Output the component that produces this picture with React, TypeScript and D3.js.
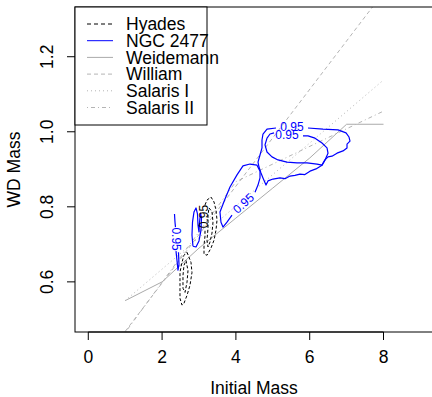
import React from 'react';
import * as d3 from 'd3';

const xTicks = [0, 2, 4, 6, 8];
const yTicks = [0.6, 0.8, 1.0, 1.2];
const legendLabels = ['Hyades', 'NGC 2477', 'Weidemann', 'William', 'Salaris I', 'Salaris II'];

// Initial-final mass relations
const weidemannX = [1, 2, 3, 4, 5, 6, 7, 8];
const weidemannY = [0.55, 0.6, 0.69, 0.77, 0.85, 0.93, 1.02, 1.02];
const williamX = [1, 8];
const williamY = [0.468, 1.371];
const salaris1X = [1, 8];
const salaris1Y = [0.55, 1.138];
const salaris2X = [1, 4, 8];
const salaris2Y = [0.465, 0.867, 1.055];

// NGC 2477 contours (blue)
const ngcOuter: [number, number][] = [
  [5.087, 1.01], [4.843, 1.007], [4.734, 0.994], [4.707, 0.978], [4.707, 0.957], [4.653, 0.938],
  [4.599, 0.919], [4.626, 0.906], [4.68, 0.89], [4.734, 0.877], [4.816, 0.858], [4.87, 0.869],
  [5.005, 0.874], [5.195, 0.877], [5.33, 0.875], [5.466, 0.882], [5.6, 0.884], [5.737, 0.887],
  [5.87, 0.886], [6.008, 0.895], [6.171, 0.901], [6.333, 0.911], [6.415, 0.925], [6.496, 0.933],
  [6.604, 0.935], [6.74, 0.943], [6.902, 0.949], [7.011, 0.957], [7.011, 0.967], [7.092, 0.975],
  [7.065, 0.986], [6.984, 0.997], [6.767, 1.005], [6.36, 1.007], [5.954, 1.01],
];
const ngcInner: [number, number][] = [
  [5.818, 0.989], [5.954, 0.989], [6.144, 0.983], [6.333, 0.97], [6.469, 0.957], [6.496, 0.943],
  [6.415, 0.925], [6.333, 0.911], [6.198, 0.914], [5.927, 0.917], [5.656, 0.917], [5.385, 0.919],
  [5.141, 0.925], [4.978, 0.933], [4.843, 0.946], [4.789, 0.965], [4.843, 0.983], [4.924, 0.994],
  [5.033, 0.997],
];
const ngcMid: [number, number][] = [
  [4.518, 0.839], [4.599, 0.858], [4.653, 0.877], [4.653, 0.895], [4.572, 0.911], [4.382, 0.914],
  [4.192, 0.909], [4.03, 0.885], [3.84, 0.853], [3.705, 0.821], [3.569, 0.786], [3.596, 0.759],
  [3.65, 0.746], [3.759, 0.759], [3.894, 0.778],
];
const ngcSmallA: [number, number][] = [[2.336, 0.781], [2.35, 0.759], [2.363, 0.746]];
const ngcSmallB: [number, number][] = [
  [2.377, 0.682], [2.404, 0.657], [2.431, 0.631], [2.458, 0.647], [2.444, 0.679],
];
const ngcSmallC: [number, number][] = [
  [2.837, 0.695], [2.81, 0.725], [2.824, 0.759], [2.864, 0.786], [2.919, 0.797], [2.959, 0.781],
  [2.973, 0.751], [3.0, 0.733], [3.014, 0.759], [3.041, 0.783], [3.068, 0.77], [3.054, 0.738],
  [3.0, 0.709], [2.919, 0.693], [2.837, 0.695],
];

// Hyades contours (black dashed)
const hyaOuter1: [number, number][] = [
  [3.163, 0.805], [3.217, 0.818], [3.325, 0.826], [3.407, 0.813], [3.461, 0.791], [3.488, 0.765],
  [3.461, 0.738], [3.407, 0.711], [3.325, 0.69], [3.217, 0.671], [3.136, 0.674], [3.136, 0.698],
  [3.163, 0.722], [3.163, 0.741],
];
const hyaInner1: [number, number][] = [
  [3.271, 0.797], [3.352, 0.787], [3.379, 0.759], [3.352, 0.73], [3.298, 0.706], [3.244, 0.693],
  [3.217, 0.711], [3.244, 0.743], [3.244, 0.778], [3.271, 0.797],
];
const hyaOuter2: [number, number][] = [
  [2.675, 0.679], [2.783, 0.652], [2.81, 0.625], [2.756, 0.591], [2.675, 0.564], [2.593, 0.543],
  [2.539, 0.538], [2.485, 0.556], [2.485, 0.591], [2.485, 0.626], [2.539, 0.652], [2.593, 0.671],
  [2.675, 0.679],
];
const hyaInner2: [number, number][] = [
  [2.648, 0.657], [2.702, 0.63], [2.675, 0.599], [2.621, 0.572], [2.566, 0.583], [2.566, 0.617],
  [2.593, 0.644], [2.648, 0.657],
];

const contourLabels = [
  { x: 5.518, y: 1.0125, rot: 0, color: '#0000ff' },
  { x: 5.385, y: 0.9925, rot: 0, color: '#0000ff' },
  { x: 4.206, y: 0.809, rot: -42, color: '#0000ff' },
  { x: 2.377, y: 0.714, rot: 90, color: '#0000ff' },
  { x: 3.149, y: 0.774, rot: -90, color: '#000000' },
];

const FONT = "'Liberation Sans', Arial, Helvetica, sans-serif";

export default function App() {
  const x = d3.scaleLinear().domain([-0.36, 9.36]).range([75, 433.7]);
  const y = d3.scaleLinear().domain([0.4664, 1.3325]).range([332, 7]);
  const line = d3.line<[number, number]>().x((d) => x(d[0])).y((d) => y(d[1]));
  const zip = (a: number[], b: number[]) => a.map((v, i) => [v, b[i]] as [number, number]);

  const gray = '#b4b4b4';
  const relLines = [
    { pts: zip(weidemannX, weidemannY), dash: undefined as string | undefined, color: '#aaaaaa' },
    { pts: zip(williamX, williamY), dash: '4,3', color: gray },
    { pts: zip(salaris1X, salaris1Y), dash: '1,3', color: gray },
    { pts: zip(salaris2X, salaris2Y), dash: '1,3,4,3', color: gray },
  ];
  const contours = [
    { pts: ngcOuter, color: '#0000ff', dash: undefined as string | undefined, w: 1.2 },
    { pts: ngcInner, color: '#0000ff', dash: undefined, w: 1.2 },
    { pts: ngcMid, color: '#0000ff', dash: undefined, w: 1.2 },
    { pts: ngcSmallA, color: '#0000ff', dash: undefined, w: 1.2 },
    { pts: ngcSmallB, color: '#0000ff', dash: undefined, w: 1.2 },
    { pts: ngcSmallC, color: '#0000ff', dash: undefined, w: 1.2 },
    { pts: hyaOuter1, color: '#000000', dash: '3,2', w: 1 },
    { pts: hyaInner1, color: '#000000', dash: '3,2', w: 1 },
    { pts: hyaOuter2, color: '#000000', dash: '3,2', w: 1 },
    { pts: hyaInner2, color: '#000000', dash: '3,2', w: 1 },
  ];

  const legendStyles = [
    { color: '#000000', dash: '4,3' },
    { color: '#0000ff', dash: undefined as string | undefined },
    { color: '#aaaaaa', dash: undefined },
    { color: gray, dash: '4,3' },
    { color: gray, dash: '1,3' },
    { color: gray, dash: '1,3,4,3' },
  ];

  return (
    <svg width={432} height={397} style={{ position: 'absolute', left: 0, top: 0, background: '#fff' }} fontFamily={FONT}>
      <defs>
        <clipPath id="plotClip">
          <rect x={75} y={7} width={358.7} height={325} />
        </clipPath>
      </defs>
      <rect x={0} y={0} width={432} height={397} fill="#fff" />
      <g clipPath="url(#plotClip)" fill="none">
        {relLines.map((l, i) => (
          <path key={'r' + i} d={line(l.pts) || ''} stroke={l.color} strokeWidth={1} strokeDasharray={l.dash} />
        ))}
        {contours.map((c, i) => (
          <path key={'c' + i} d={line(c.pts) || ''} stroke={c.color} strokeWidth={c.w} strokeDasharray={c.dash} strokeLinejoin="round" />
        ))}
      </g>
      {contourLabels.map((l, i) => (
        <text key={'cl' + i} x={0} y={0} transform={`translate(${x(l.x)},${y(l.y)}) rotate(${l.rot})`}
          textAnchor="middle" dominantBaseline="central" fontSize={12} fill={l.color}>0.95</text>
      ))}
      {/* box */}
      <rect x={75} y={7} width={358.7} height={325} fill="none" stroke="#000" strokeWidth={1} />
      {/* x axis */}
      <line x1={x(0)} x2={x(8)} y1={332} y2={332} stroke="#000" />
      {xTicks.map((t) => (
        <g key={'xt' + t}>
          <line x1={x(t)} x2={x(t)} y1={332} y2={340} stroke="#000" />
          <text x={x(t)} y={363} textAnchor="middle" fontSize={17.5} fill="#000">{t}</text>
        </g>
      ))}
      {yTicks.map((t) => (
        <g key={'yt' + t}>
          <line x1={67} x2={75} y1={y(t)} y2={y(t)} stroke="#000" />
          <text transform={`translate(53,${y(t)}) rotate(-90)`} textAnchor="middle" fontSize={17.5} fill="#000">{t.toFixed(1)}</text>
        </g>
      ))}
      <text x={254} y={394} textAnchor="middle" fontSize={17.5} fill="#000">Initial Mass</text>
      <text transform={`translate(20,169.5) rotate(-90)`} textAnchor="middle" fontSize={17.5} fill="#000">WD Mass</text>
      {/* legend */}
      <rect x={75} y={7} width={132} height={118} fill="#fff" stroke="#000" strokeWidth={1} />
      {legendLabels.map((lab, i) => {
        const cy = 24 + i * 16.7;
        return (
          <g key={'lg' + i}>
            <line x1={87} x2={113} y1={cy} y2={cy} stroke={legendStyles[i].color} strokeDasharray={legendStyles[i].dash} />
            <text x={126} y={cy + 6.2} fontSize={17.5} fill="#000">{lab}</text>
          </g>
        );
      })}
    </svg>
  );
}
